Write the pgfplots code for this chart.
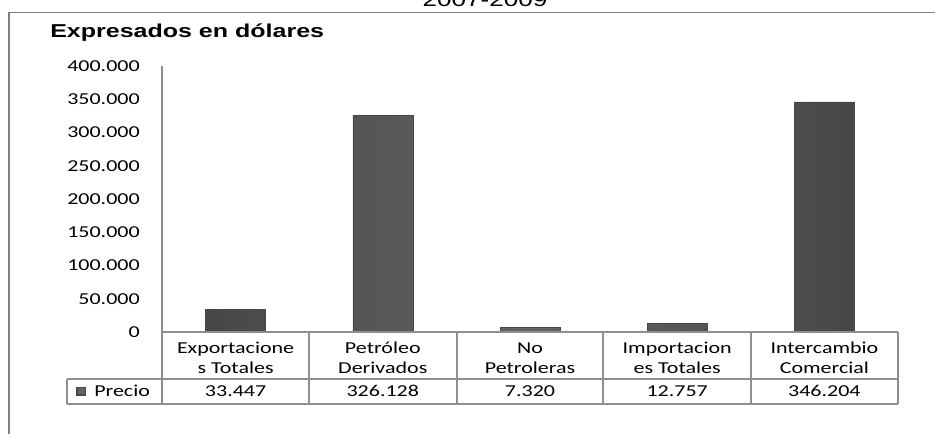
\documentclass[border=0pt]{standalone}
\usepackage{pgfplots}
\pgfplotsset{compat=1.18}
\usepackage{fontspec}
\setmainfont{Carlito}[FakeStretch=1.32]
\newfontfamily\arialf{Liberation Sans}[FakeStretch=1.34]
\definecolor{tablegray}{HTML}{8E8E8E}
\definecolor{framegray}{HTML}{7F7F7F}
\definecolor{barc}{HTML}{646464}
\definecolor{bard}{HTML}{474747}
\newcommand{\tfont}{\fontsize{12.5pt}{15pt}\selectfont}
\begin{document}
\begin{tikzpicture}
\begin{scope}[x=0.75pt,y=-0.75pt]
\path[use as bounding box] (0,0) rectangle (935,434);
\begin{scope}
\clip (0,0) rectangle (935,434);
\node[font=\arialf\fontsize{14.6pt}{16pt}\selectfont, anchor=base, inner sep=0pt] at (485,7) {2007-2009};
\end{scope}
\draw[framegray, line width=1.1pt] (9,434) -- (9,12.5) -- (936,12.5);
\node[font=\arialf\bfseries\fontsize{14pt}{16pt}\selectfont, anchor=base west, inner sep=0pt] at (50,37.3) {Expresados en dólares};
\end{scope}
\begin{axis}[
  at={(121.5pt,-249pt)}, anchor=south west,
  scale only axis, width=552pt, height=199.5pt,
  xmin=-0.5, xmax=4.5, ymin=0, ymax=400000,
  axis line style={draw=none},
  tick style={draw=none},
  ytick={0,50000,100000,150000,200000,250000,300000,350000,400000},
  scaled y ticks=false,
  /pgf/number format/fixed,
  /pgf/number format/precision=0,
  /pgf/number format/1000 sep={.},
  /pgf/number format/assume math mode=true,
  tick label style={font=\tfont},
  yticklabel style={inner sep=0pt, xshift=-16.5pt},
  xtick={0,...,4},
  xticklabels={{Exportacione\\s Totales},{Petróleo\\Derivados},{No\\Petroleras},{Importacion\\es Totales},{Intercambio\\Comercial}},
  xticklabel style={align=center, anchor=north, inner sep=0pt, yshift=-3.3pt},
  ybar, bar width=45pt,
  clip=false,
]
\addplot[draw=bard, left color=bard, right color=bard, middle color=barc] coordinates {(0,33447) (1,326128) (2,7320) (3,12757) (4,346204)};
\node[font=\tfont, anchor=base, inner sep=0pt, yshift=-48.5pt] at (axis cs:0,0) {33.447};
\node[font=\tfont, anchor=base, inner sep=0pt, yshift=-48.5pt] at (axis cs:1,0) {326.128};
\node[font=\tfont, anchor=base, inner sep=0pt, yshift=-48.5pt] at (axis cs:2,0) {7.320};
\node[font=\tfont, anchor=base, inner sep=0pt, yshift=-48.5pt] at (axis cs:3,0) {12.757};
\node[font=\tfont, anchor=base, inner sep=0pt, yshift=-48.5pt] at (axis cs:4,0) {346.204};
\end{axis}
\begin{scope}[x=0.75pt,y=-0.75pt]
\draw[tablegray, line width=0.8pt] (162,66) -- (162,404);
\draw[tablegray, line width=0.8pt] (162,332) -- (898,332);
\draw[tablegray, line width=0.8pt] (67,379) -- (898,379);
\draw[tablegray, line width=0.8pt] (67,404) -- (898,404);
\draw[tablegray, line width=0.8pt] (67,379) -- (67,404);
\foreach \x in {309,457,603,751,898} \draw[tablegray, line width=0.8pt] (\x,332) -- (\x,404);
\fill[bard] (76,387) rectangle (86,396);
\fill[barc] (77.5,388.5) rectangle (84.5,394.5);
\node[font=\tfont, anchor=base west, inner sep=0pt] at (94,396.7) {Precio};
\end{scope}
\end{tikzpicture}
\end{document}
